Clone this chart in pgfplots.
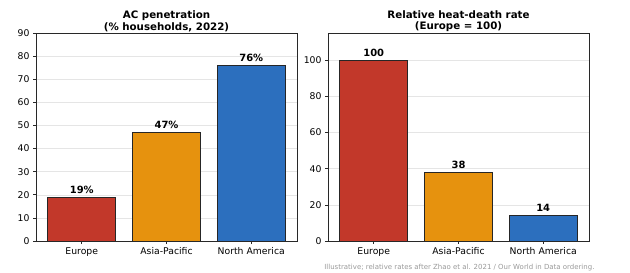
\documentclass[border=0pt]{standalone}
\usepackage{pgfplots}
\pgfplotsset{compat=1.18}
\usepackage{fontspec}
\setmainfont{DejaVu Sans}
\definecolor{cred}{RGB}{194,56,42}
\definecolor{corange}{RGB}{230,146,14}
\definecolor{cblue}{RGB}{44,111,190}
\definecolor{axgray}{RGB}{40,40,40}
\pgfplotsset{
  myax/.style={
    scale only axis, width=261bp, height=208bp, anchor=south west,
    xmin=-0.54, xmax=2.54, xtick={0,1,2},
    xticklabels={Europe,Asia-Pacific,North America},
    ybar, bar width=0.8, bar shift=0pt,
    ymin=0,
    xtick pos=bottom, ytick pos=left,
    tick align=outside, major tick length=3bp,
    tick style={axgray, line width=0.6pt},
    axis line style={axgray, line width=0.8pt},
    ymajorgrids, grid style={gray!20, line width=0.5pt},
    /pgf/number format/assume math mode=true,
    tick label style={font=\fontsize{9.3}{11}\selectfont, text=black},
    title style={font=\fontsize{10.3}{11.8}\selectfont\bfseries, align=center, yshift=-8.5bp},
    nodes near coords style={font=\fontsize{10}{11}\selectfont\bfseries, text=black},
    every axis plot/.append style={draw=black!85, line width=0.8pt},
  }
}
\begin{document}
\begin{tikzpicture}
\path[use as bounding box] (0,0) rectangle (630bp,273bp);
\begin{axis}[myax, at={(36bp,32bp)}, ymax=90, ytick={0,10,...,90},
  title={AC penetration\\(\% households, 2022)},
  nodes near coords={\pgfmathprintnumber[assume math mode=true]{\pgfplotspointmeta}\%}]
\addplot[fill=cred] coordinates {(0,19)};
\addplot[fill=corange] coordinates {(1,47)};
\addplot[fill=cblue] coordinates {(2,76)};
\end{axis}
\begin{axis}[myax, at={(328bp,32bp)}, ymax=115, ytick={0,20,...,100},
  title={Relative heat-death rate\\(Europe = 100)},
  nodes near coords={\pgfmathprintnumber[assume math mode=true]{\pgfplotspointmeta}}]
\addplot[fill=cred] coordinates {(0,100)};
\addplot[fill=corange] coordinates {(1,38)};
\addplot[fill=cblue] coordinates {(2,14)};
\end{axis}
\node[anchor=east, text=gray!80, font=\fontsize{7}{8}\selectfont] at (598bp,5bp) {Illustrative; relative rates after Zhao et al. 2021 / Our World in Data ordering.};
\end{tikzpicture}
\end{document}
